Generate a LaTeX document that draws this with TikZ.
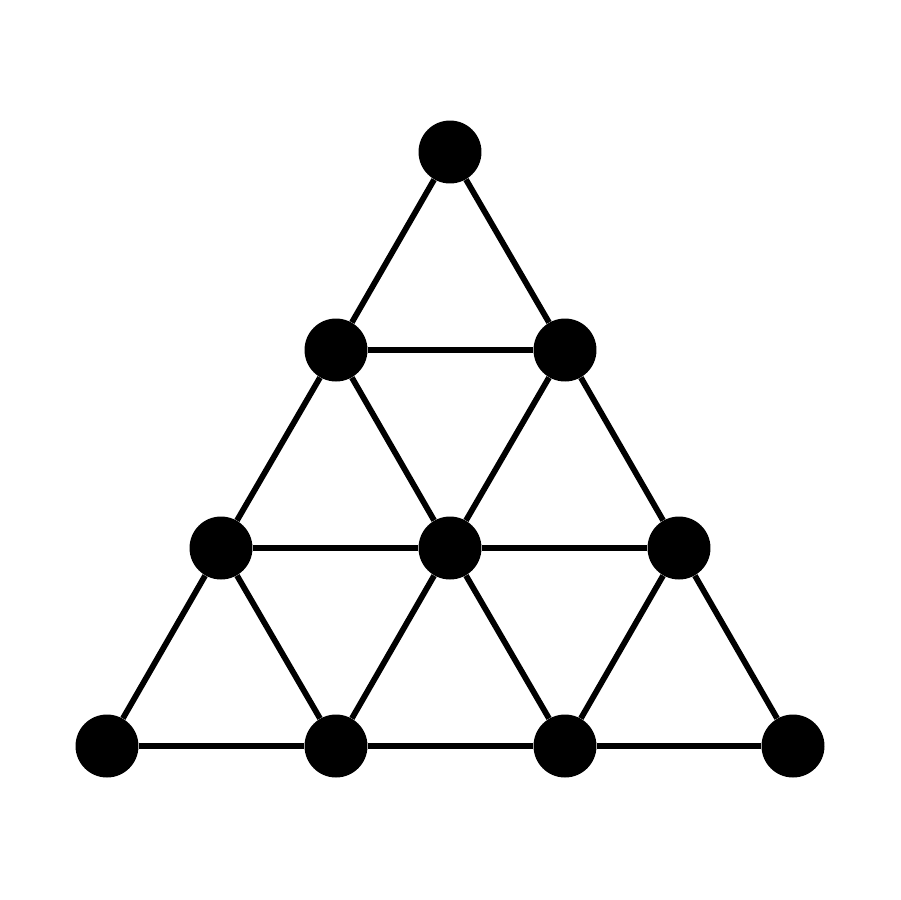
\documentclass[tikz,border=0pt]{standalone}
\begin{document}
\begin{tikzpicture}[x=0.02cm,y=-0.02cm,
  dot/.style={circle,fill=black,minimum size=1.26cm,inner sep=0pt},
  edge/.style={line width=3.3pt}]
\useasboundingbox[fill=white] (0,0) rectangle (900,900);
\node[dot] (a) at (450,152) {};
\node[dot] (b1) at (336,350) {};
\node[dot] (b2) at (565,350) {};
\node[dot] (c1) at (221,548) {};
\node[dot] (c2) at (450,548) {};
\node[dot] (c3) at (679,548) {};
\node[dot] (d1) at (107,746) {};
\node[dot] (d2) at (336,746) {};
\node[dot] (d3) at (565,746) {};
\node[dot] (d4) at (793,746) {};
\foreach \u/\v in {a/b1,a/b2,b1/b2,b1/c1,b1/c2,b2/c2,b2/c3,c1/c2,c2/c3,c1/d1,c1/d2,c2/d2,c2/d3,c3/d3,c3/d4,d1/d2,d2/d3,d3/d4}
  \draw[edge] (\u) -- (\v);
\end{tikzpicture}
\end{document}
